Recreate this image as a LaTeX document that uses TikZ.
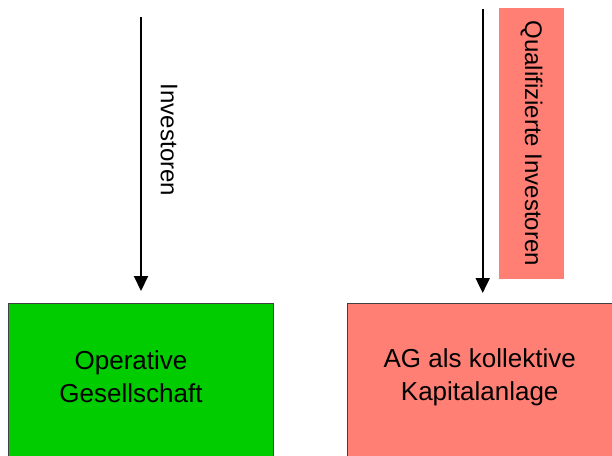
\documentclass[tikz,border=0pt]{standalone}
\usepackage{fontspec}
\setmainfont{Liberation Sans}
\usetikzlibrary{arrows.meta}
\definecolor{boxgreen}{RGB}{0,204,0}
\definecolor{boxsalmon}{RGB}{255,127,116}
\definecolor{boxborder}{RGB}{64,64,64}
\begin{document}
\begin{tikzpicture}[x=1pt, y=-1pt,
  box/.style={draw=boxborder, line width=1pt, minimum height=190pt, anchor=north west, inner sep=0pt},
  txt/.style={align=center, font=\fontsize{26}{33.3}\selectfont, inner sep=0pt},
  sidetxt/.style={rotate=-90, font=\fontsize{24}{28}\selectfont, inner sep=0pt},
  arr/.style={line width=2pt, -{Triangle[width=14pt,length=15pt]}}]
\useasboundingbox (0,0) rectangle (612,455);
\node[box, fill=boxgreen, minimum width=265pt] (og) at (8,303){};
\node[box, fill=boxsalmon, minimum width=280pt] (ag) at (347,303){};
\node[txt] (ogtxt) at (131,377){Operative\\Gesellschaft};
\node[txt] (agtxt) at (479.7,377){AG als kollektive\\Kapitalanlage};
\coordinate (invtop) at (141,17);
\coordinate (qinvtop) at (482.7,9);
\node[sidetxt] (inv) at (169,140){Investoren};
\node[sidetxt, fill=boxsalmon, minimum width=270.7pt, minimum height=65pt] (qinv) at (531.5,143.3){Qualifizierte Investoren};
\draw[arr, shorten >=12pt](invtop) -- (invtop |- og.north);
\draw[arr, shorten >=10pt](qinvtop) -- (qinvtop |- ag.north);
\end{tikzpicture}
\end{document}
